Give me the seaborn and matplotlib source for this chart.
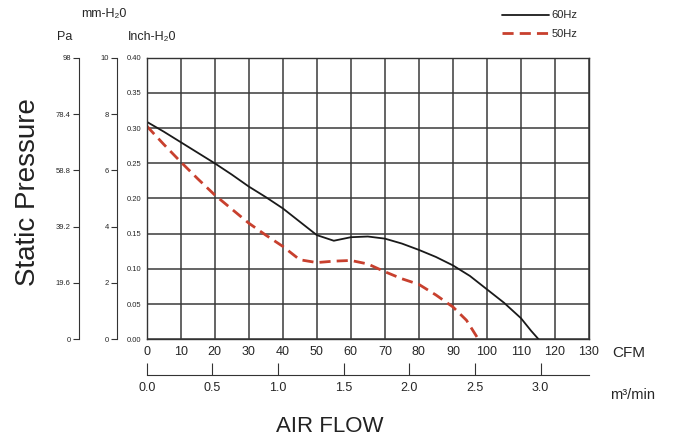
import numpy as np
import pandas as pd
import matplotlib
matplotlib.use("Agg")
import matplotlib.pyplot as plt
import seaborn as sns

# curve readings, static pressure in inch-H2O against air flow in CFM
cfm_60 = [0, 5, 10, 15, 20, 25, 30, 35, 40, 45, 50, 55, 60, 65, 70, 75,
          80, 85, 90, 95, 100, 105, 110, 113, 115.2]
inch_60 = [0.309, 0.295, 0.280, 0.265, 0.250, 0.234, 0.217, 0.202, 0.186, 0.167,
           0.148, 0.140, 0.145, 0.146, 0.143, 0.136, 0.127, 0.117, 0.105, 0.090,
           0.071, 0.052, 0.030, 0.012, 0.0]
cfm_50 = [0, 5, 10, 15, 20, 25, 30, 35, 40, 45, 50, 55, 60, 65, 70, 75,
          80, 85, 90, 94, 97.5]
inch_50 = [0.303, 0.277, 0.252, 0.228, 0.205, 0.185, 0.165, 0.148, 0.132, 0.113,
           0.109, 0.111, 0.112, 0.107, 0.096, 0.086, 0.078, 0.063, 0.046, 0.027, 0.0]

cfm_ticks = list(range(0, 131, 10))
inch_ticks = [0.00, 0.05, 0.10, 0.15, 0.20, 0.25, 0.30, 0.35, 0.40]
mm_ticks = [0, 2, 4, 6, 8, 10]
pa_ticks = [0, 19.6, 39.2, 58.8, 78.4, 98]
m3_ticks = [0.0, 0.5, 1.0, 1.5, 2.0, 2.5, 3.0]

df = pd.concat([
    pd.DataFrame({"cfm": cfm_60, "inch": inch_60, "speed": "60Hz"}),
    pd.DataFrame({"cfm": cfm_50, "inch": inch_50, "speed": "50Hz"}),
])

sns.set_style("white")
plt.rcParams["font.family"] = ["Liberation Sans", "DejaVu Sans"]

fig = plt.figure(figsize=(6.9, 4.41), dpi=100)
ax = fig.add_axes([0.2126, 0.2306, 0.641, 0.6386])

sns.lineplot(data=df, x="cfm", y="inch", hue="speed", style="speed",
             palette={"60Hz": "#1a1a1a", "50Hz": "#c8402e"},
             dashes={"60Hz": "", "50Hz": (4, 2.2)},
             size="speed", sizes={"60Hz": 1.3, "50Hz": 2.0},
             sort=False, ax=ax)

ax.set_xlim(0, 130)
ax.set_ylim(0, 0.40)
ax.set_xticks(cfm_ticks)
ax.set_yticks(inch_ticks)
ax.set_yticklabels([f"{v:.2f}" for v in inch_ticks], fontsize=5.5)
ax.tick_params(axis="x", length=0, labelsize=9, pad=5)
ax.tick_params(axis="y", length=0, pad=4)
ax.grid(True, color="#3a3a3a", linewidth=1.1)
for s in ax.spines.values():
    s.set_color("#333333")
    s.set_linewidth(1.0)
ax.set_xlabel("")
ax.set_ylabel("")

# extra pressure scales on the left
mm_ax = ax.secondary_yaxis(-0.067, functions=(lambda v: v * 25, lambda v: v / 25))
mm_ax.set_yticks(mm_ticks)
mm_ax.set_yticklabels([str(v) for v in mm_ticks], fontsize=5.5)
mm_ax.tick_params(length=4, width=0.8, pad=2, color="#333333")
mm_ax.spines["left"].set_color("#333333")

pa_ax = ax.secondary_yaxis(-0.153, functions=(lambda v: v * 245, lambda v: v / 245))
pa_ax.set_yticks(pa_ticks)
pa_ax.set_yticklabels(["0", "19.6", "39.2", "58.8", "78.4", "98"], fontsize=5.5)
pa_ax.tick_params(length=4, width=0.8, pad=2, color="#333333")
pa_ax.spines["left"].set_color("#333333")

# second flow scale below
m3_ax = ax.secondary_xaxis(-0.126, functions=(lambda v: v / 38.6, lambda v: v * 38.6))
m3_ax.set_xticks(m3_ticks)
m3_ax.set_xticklabels([f"{v:.1f}" for v in m3_ticks], fontsize=9)
m3_ax.tick_params(direction="in", length=9, width=0.8, pad=5, color="#333333")
m3_ax.spines["bottom"].set_color("#333333")

fig.text(65 / 690, 1 - 37 / 441, "Pa", fontsize=9, ha="center", va="center")
fig.text(104 / 690, 1 - 14 / 441, "mm-H₂0", fontsize=9, ha="center", va="center")
fig.text(152 / 690, 1 - 37 / 441, "Inch-H₂0", fontsize=9, ha="center", va="center")
fig.text(28 / 690, 1 - 192 / 441, "Static Pressure", fontsize=20, color="#222222",
         rotation=90, ha="center", va="center")
fig.text(612 / 690, 1 - 353 / 441, "CFM", fontsize=11, ha="left", va="center")
fig.text(610 / 690, 1 - 395 / 441, "m³/min", fontsize=10.5, ha="left", va="center")
fig.text(330 / 690, 1 - 427 / 441, "AIR FLOW", fontsize=16, color="#222222",
         ha="center", va="center")

handles, labels = ax.get_legend_handles_labels()
ax.get_legend().remove()
fig.legend(handles, labels, loc="upper left", bbox_to_anchor=(498 / 690, 1 - 6 / 441),
           frameon=False, fontsize=8, handlelength=4.2, handletextpad=0.2,
           labelspacing=0.75, borderaxespad=0)

fig.savefig("out.png", dpi=100)
